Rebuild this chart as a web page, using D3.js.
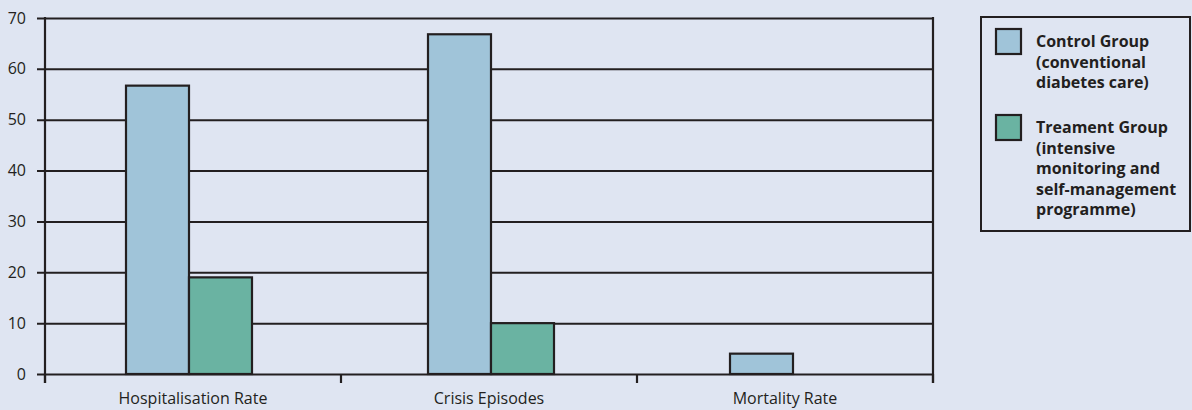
<!DOCTYPE html>
<html>
<head>
<meta charset="utf-8">
<script src="https://cdn.jsdelivr.net/npm/d3@7"></script>
<style>
  html, body { margin: 0; padding: 0; background: #dfe5f2; }
  svg { display: block; }
  text { font-family: "Open Sans", "Noto Sans", sans-serif; fill: #231f20; }
</style>
</head>
<body>
<svg id="chart" width="1192" height="410"></svg>
<script>
// Outcome measures and the two study arms
const categories = ["Hospitalisation Rate", "Crisis Episodes", "Mortality Rate"];
const seriesNames = ["Control Group", "Treament Group"];
const controlValues = [56.7, 66.8, 4];
const treatmentValues = [19, 10, 0];
const yTicks = [0, 10, 20, 30, 40, 50, 60, 70];
const legendLines = [
  ["Control Group", "(conventional", "diabetes care)"],
  ["Treament Group", "(intensive", "monitoring and", "self-management", "programme)"]
];
const colors = ["#a0c4d9", "#6ab3a2"];

const ink = "#231f20";
const fontSize = 16;
const barWidth = 63;
const svg = d3.select("#chart");
const plot = { left: 45, right: 933, top: 18, bottom: 374 };

const y = d3.scaleLinear().domain([0, 70]).range([plot.bottom, plot.top]);
// category bands for the axis and labels
const x0 = d3.scaleBand().domain(categories).range([plot.left, plot.right]).paddingInner(0).paddingOuter(0);
// centres of the bar groups, spaced slightly wider than the bands
const xc = d3.scalePoint().domain(categories).range([plot.left + 144, plot.right - 140]);
const x1 = d3.scaleBand().domain(seriesNames).range([-barWidth, barWidth]).padding(0);

const rows = categories.map((c, i) => ({ category: c, values: [controlValues[i], treatmentValues[i]] }));

// Horizontal gridlines with left tick stubs
const yAxis = d3.axisLeft(y).tickValues(yTicks).tickSize(-(plot.right - plot.left)).tickSizeOuter(0).tickPadding(19);
const gy = svg.append("g").attr("transform", `translate(${plot.left},0)`).call(yAxis);
gy.attr("font-size", null).attr("font-family", null);
gy.select(".domain").remove();
gy.selectAll(".tick line").attr("x1", -8).attr("stroke", ink).attr("stroke-width", 2);
gy.selectAll(".tick text").attr("font-size", fontSize).attr("fill", ink);

// Bars
const groups = svg.append("g").selectAll("g").data(rows).join("g")
  .attr("transform", d => `translate(${xc(d.category)},0)`);
groups.selectAll("rect")
  .data(d => d.values.map((v, j) => ({ name: seriesNames[j], value: v, j })).filter(e => e.value > 0))
  .join("rect")
  .attr("x", d => x1(d.name))
  .attr("y", d => y(d.value))
  .attr("width", x1.bandwidth())
  .attr("height", d => plot.bottom - y(d.value))
  .attr("fill", d => colors[d.j])
  .attr("stroke", ink)
  .attr("stroke-width", 2.2);

// Left and right frame lines
svg.append("line").attr("x1", plot.left).attr("x2", plot.left).attr("y1", plot.top - 1).attr("y2", plot.bottom + 9)
  .attr("stroke", ink).attr("stroke-width", 2.2);
svg.append("line").attr("x1", plot.right).attr("x2", plot.right).attr("y1", plot.top - 1).attr("y2", plot.bottom + 9)
  .attr("stroke", ink).attr("stroke-width", 2.2);

// Category axis with ticks between groups
const bounds = categories.map(c => x0(c)).concat([plot.right]);
const gx = svg.append("g").attr("transform", `translate(0,${plot.bottom})`);
gx.selectAll("line.sep").data(bounds).join("line")
  .attr("class", "sep")
  .attr("x1", d => d).attr("x2", d => d).attr("y1", 0).attr("y2", 9)
  .attr("stroke", ink).attr("stroke-width", 2.2);
gx.selectAll("text").data(categories).join("text")
  .attr("x", d => x0(d) + x0.bandwidth() / 2)
  .attr("y", 30)
  .attr("text-anchor", "middle")
  .attr("font-size", fontSize)
  .text(d => d);

// Legend
const legend = svg.append("g");
legend.append("rect").attr("x", 981).attr("y", 17).attr("width", 209).attr("height", 214)
  .attr("fill", "none").attr("stroke", ink).attr("stroke-width", 2);
const legendTops = [29, 115];
legendLines.forEach((lines, i) => {
  legend.append("rect").attr("x", 996).attr("y", legendTops[i]).attr("width", 25).attr("height", 25)
    .attr("fill", colors[i]).attr("stroke", ink).attr("stroke-width", 2.2);
  const t = legend.append("text").attr("x", 1036).attr("y", legendTops[i] + 18)
    .attr("font-size", fontSize).attr("font-weight", "bold");
  lines.forEach((s, k) => {
    t.append("tspan").attr("x", 1036).attr("dy", k === 0 ? 0 : 20.6).text(s);
  });
});
</script>
</body>
</html>
